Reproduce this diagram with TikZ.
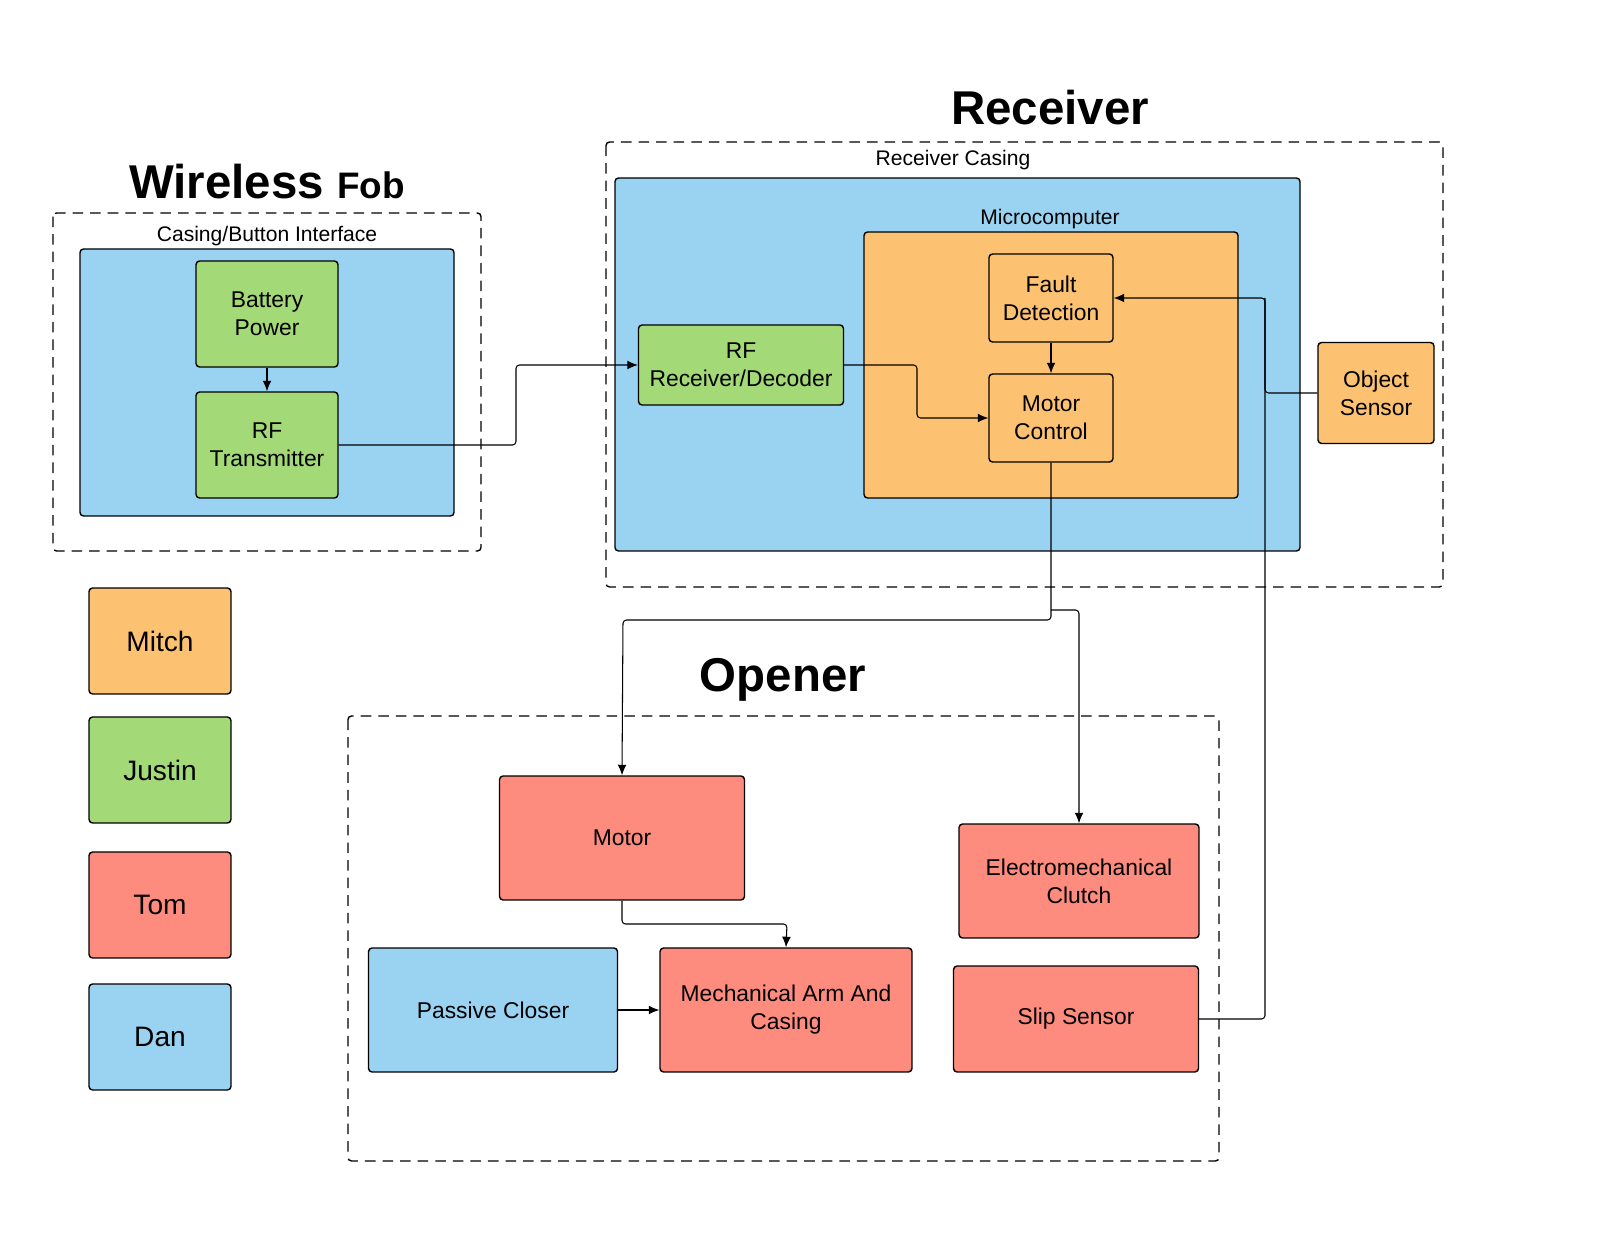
\documentclass[tikz,border=0pt]{standalone}
\usepackage{fontspec}
\setmainfont{Liberation Sans}
\usetikzlibrary{arrows.meta}
\definecolor{cblue}{HTML}{9AD3F2}
\definecolor{cgreen}{HTML}{A4D977}
\definecolor{corange}{HTML}{FDC271}
\definecolor{cred}{HTML}{FE8C7E}
\begin{document}
\begin{tikzpicture}[x=0.02cm,y=-0.02cm,
 box/.style={draw,rounded corners=2pt,line width=0.8pt,align=center,font=\fontsize{13}{16}\selectfont},
 dbox/.style={draw,dash pattern=on 6pt off 4pt,line width=0.8pt,rounded corners=2pt},
 leg/.style={box,font=\fontsize{16}{19}\selectfont},
 lbl/.style={font=\fontsize{12}{14}\selectfont},
 arr/.style={-{Latex[length=6pt,width=5pt]},line width=0.6pt,rounded corners=2pt},
 ln/.style={line width=0.6pt,rounded corners=2pt}]
\useasboundingbox (0,0) rectangle (1600,1236);
% Wireless fob
\node[font=\fontsize{27}{30}\selectfont\bfseries] (tfob) at (267,182) {Wireless {\fontsize{21}{24}\selectfont Fob}};
\draw[dbox] (53,213) rectangle (481,551);
\node[lbl] (lcas) at (267,236) {Casing/Button Interface};
\draw[box,fill=cblue] (80,249) rectangle (454,516);
\node[box,fill=cgreen,minimum width=2.84cm,minimum height=2.12cm] (bat) at (267,314) {Battery\\Power};
\node[box,fill=cgreen,minimum width=2.84cm,minimum height=2.12cm] (rftx) at (267,445) {RF\\Transmitter};
% Receiver
\node[font=\fontsize{27}{30}\selectfont\bfseries] (trec) at (1050,108) {Receiver};
\draw[dbox] (606,142) rectangle (1443,587);
\node[lbl] (lrc) at (953,160) {Receiver Casing};
\draw[box,fill=cblue] (615,178) rectangle (1300,551);
\node[lbl] (lmc) at (1050,219) {Microcomputer};
\draw[box,fill=corange] (864,232) rectangle (1238,498);
\node[box,fill=cgreen,minimum width=4.1cm,minimum height=1.6cm] (rfr) at (741,365) {RF\\Receiver/Decoder};
\node[box,fill=corange,minimum width=2.48cm,minimum height=1.76cm] (fault) at (1051,298) {Fault\\Detection};
\node[box,fill=corange,minimum width=2.48cm,minimum height=1.76cm] (mc) at (1051,418) {Motor\\Control};
\node[box,fill=corange,minimum width=2.32cm,minimum height=2.02cm] (obj) at (1376,393) {Object\\Sensor};
% Legend
\node[leg,fill=corange,minimum width=2.84cm,minimum height=2.12cm] (mitch) at (160,641) {Mitch};
\node[leg,fill=cgreen,minimum width=2.84cm,minimum height=2.12cm] (justin) at (160,770) {Justin};
\node[leg,fill=cred,minimum width=2.84cm,minimum height=2.12cm] (tom) at (160,905) {Tom};
\node[leg,fill=cblue,minimum width=2.84cm,minimum height=2.12cm] (dan) at (160,1037) {Dan};
% Opener
\node[font=\fontsize{27}{30}\selectfont\bfseries] (top) at (783,680) {Opener};
\draw[dbox] (348,716) rectangle (1219,1161);
\node[box,fill=cred,minimum width=4.9cm,minimum height=2.48cm] (motor) at (622,838) {Motor};
\node[box,fill=cred,minimum width=4.8cm,minimum height=2.28cm] (clutch) at (1079,881) {Electromechanical\\Clutch};
\node[box,fill=cblue,minimum width=4.98cm,minimum height=2.48cm] (pc) at (493,1010) {Passive Closer};
\node[box,fill=cred,minimum width=5.04cm,minimum height=2.48cm] (arm) at (786,1010) {Mechanical Arm And\\Casing};
\node[box,fill=cred,minimum width=4.9cm,minimum height=2.12cm] (slip) at (1076,1019) {Slip Sensor};
% connectors
\coordinate (j1) at (516,445);
\coordinate (j2) at (917,365);
\coordinate (j3) at (1265,298);
\coordinate (j4) at (1051,610);
\draw[arr] (bat) -- (rftx);
\draw[arr] (rftx.east) -- (j1) |- (rfr.west);
\draw[arr] (rfr.east) -- (j2) |- (mc.west);
\draw[arr] (fault) -- (mc);
\draw[arr] (obj.west) -| (j3) -- (fault.east);
\draw[ln] (slip.east) -| (j3);
\draw[arr] (mc.south) |- (623,620) -- (motor.north);
\draw[arr] (j4) -| (clutch.north);
\draw[arr] (motor.south) |- (787,924) -- (arm.north);
\draw[arr] (pc) -- (arm);
\end{tikzpicture}
\end{document}
